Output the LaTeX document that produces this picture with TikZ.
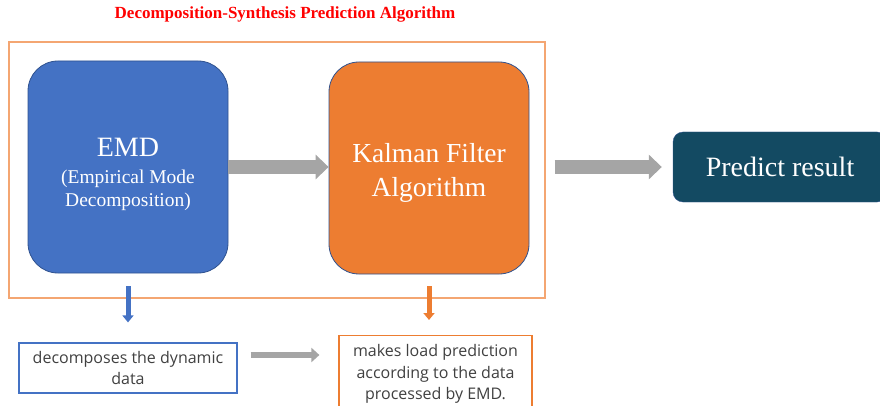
\documentclass[tikz,border=0pt]{standalone}
\usepackage{fontspec}
\setmainfont{Liberation Serif}
\setsansfont{Open Sans}
\usetikzlibrary{arrows.meta}
\definecolor{emdblue}{HTML}{4472C4}
\definecolor{edgeblue}{HTML}{2F528F}
\definecolor{kforange}{HTML}{ED7D31}
\definecolor{framer}{HTML}{F4A672}
\definecolor{arrowgray}{HTML}{A5A5A5}
\definecolor{predteal}{HTML}{134A62}
\definecolor{note}{HTML}{404040}

\tikzset{
  bigbox/.style={rounded corners=30pt, draw=edgeblue, line width=0.8pt,
    minimum width=200pt, minimum height=212pt},
  boxtext/.style={text=white, align=center},
  notebox/.style={draw, line width=1.2pt, text=note, align=center,
    font=\sffamily\fontsize{16}{21.5}\selectfont},
  grayarrow/.style={draw=arrowgray, line width=14pt, -{Triangle[length=13pt,width=24pt]}},
  thinarrow/.style={draw=arrowgray, line width=6pt, -{Triangle[length=8pt,width=14pt]}},
  downarrow/.style={line width=5pt, -{Triangle[length=7pt,width=11pt]}}
}

\begin{document}
\begin{tikzpicture}[x=1pt,y=-1pt]
  \useasboundingbox (0,0) rectangle (880,406);

  % title and frame
  \node[text=red, font=\bfseries\fontsize{17}{19}\selectfont] (title) at (285,14)
    {Decomposition-Synthesis Prediction Algorithm};
  \node[draw=framer, line width=1.2pt, minimum width=536pt, minimum height=256pt] (frame) at (277,170) {};

  % the two stages
  \node[bigbox, fill=emdblue] (emd) at (128,167) {};
  \node[boxtext, font=\fontsize{19.5}{23}\selectfont] (emdtext) at ([yshift=-7pt]emd.center)
    {{\fontsize{28}{30}\selectfont EMD}\\[4pt](Empirical Mode\\Decomposition)};
  \node[bigbox, fill=kforange] (kal) at (429,168) {};
  \node[boxtext, font=\fontsize{27.5}{34}\selectfont] (kaltext) at ([yshift=-5pt]kal.center)
    {Kalman Filter\\Algorithm};

  \node[fill=predteal, draw=edgeblue, rounded corners=10pt, minimum width=214pt, minimum height=70pt,
    text=white, font=\fontsize{28}{30}\selectfont] (pred) at (780,167) {Predict result};

  % notes
  \node[notebox, draw=emdblue, minimum width=218pt, minimum height=50pt] (dec) at (128,368)
    {decomposes the dynamic\\data};
  \node[notebox, draw=kforange, minimum width=193pt, minimum height=77pt, anchor=north] (mak) at (435.5,335)
    {makes load prediction\\according to the data\\processed by EMD.};

  % arrows
  \draw[grayarrow] (emd.east) -- (emd.east -| kal.west);
  \draw[grayarrow, shorten <=9pt, shorten >=11pt] (pred.west -| frame.east) -- (pred.west);
  \draw[downarrow, emdblue, shorten <=13pt, shorten >=20pt] (emd.south) -- (dec.north);
  \draw[downarrow, kforange, shorten <=12pt, shorten >=15pt] (kal.south) -- (kal.south |- mak.north);
  \coordinate (from) at ([xshift=13pt,yshift=13pt]dec.east);
  \draw[thinarrow, shorten >=19pt] (from) -- (from -| mak.west);
\end{tikzpicture}
\end{document}
